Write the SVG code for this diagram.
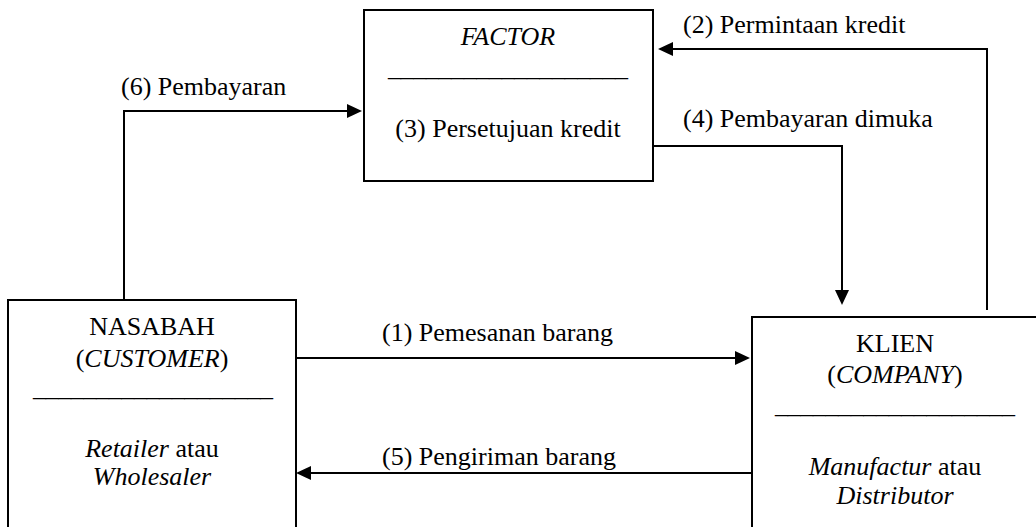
<svg xmlns="http://www.w3.org/2000/svg" width="1036" height="527" viewBox="0 0 1036 527">
<style>
  text { font-family: "Liberation Serif", Tinos, "DejaVu Serif", "Noto Serif", serif; font-size: 26px; fill: #000; }
  .c { text-anchor: middle; }
  .i { font-style: italic; }
  .box { fill: #fff; stroke: #000; stroke-width: 2; }
  .conn { fill: none; stroke: #000; stroke-width: 2; marker-end: url(#arrow); }
</style>
<defs>
  <marker id="arrow" markerUnits="userSpaceOnUse" markerWidth="16" markerHeight="16" refX="0" refY="7" orient="auto">
    <path d="M0,0 L15,7 L0,14 z" fill="#000"/>
  </marker>
</defs>
<rect width="1036" height="527" fill="#fff"/>
<g id="connectors">
  <path class="conn" d="M124,300 V111 H347"/>
  <path class="conn" d="M987,310 V49 H673"/>
  <path class="conn" d="M653,146 H842 V290"/>
  <path class="conn" d="M296,358 H735"/>
  <path class="conn" d="M752,473 H311"/>
  <text x="121" y="95" font-family="Liberation Serif, serif">(6) Pembayaran</text>
  <text x="683" y="33">(2) Permintaan kredit</text>
  <text x="683" y="127">(4) Pembayaran dimuka</text>
  <text x="382" y="341">(1) Pemesanan barang</text>
  <text x="382" y="465">(5) Pengiriman barang</text>
</g>
<g id="factor">
  <rect class="box" x="364" y="10" width="289" height="171"/>
  <text class="c i" x="508" y="45">FACTOR</text>
  <text class="c" x="508" y="75.5" textLength="240" lengthAdjust="spacing">___________________</text>
  <text class="c" x="508" y="137">(3) Persetujuan kredit</text>
</g>
<g id="nasabah">
  <rect class="box" x="8" y="300" width="288" height="240"/>
  <text class="c" x="152" y="335">NASABAH</text>
  <text class="c" x="152" y="367">(<tspan class="i">CUSTOMER</tspan>)</text>
  <text class="c" x="153" y="395.5" textLength="240" lengthAdjust="spacing">___________________</text>
  <text class="c" x="152" y="457"><tspan class="i">Retailer</tspan> atau</text>
  <text class="c i" x="152" y="485">Wholesaler</text>
</g>
<g id="klien">
  <rect class="box" x="752" y="317" width="300" height="230"/>
  <text class="c" x="895" y="352">KLIEN</text>
  <text class="c" x="895" y="383">(<tspan class="i">COMPANY</tspan>)</text>
  <text class="c" x="895" y="412.5" textLength="240" lengthAdjust="spacing">___________________</text>
  <text class="c" x="895" y="475"><tspan class="i">Manufactur</tspan> atau</text>
  <text class="c i" x="895" y="504">Distributor</text>
</g>
</svg>
